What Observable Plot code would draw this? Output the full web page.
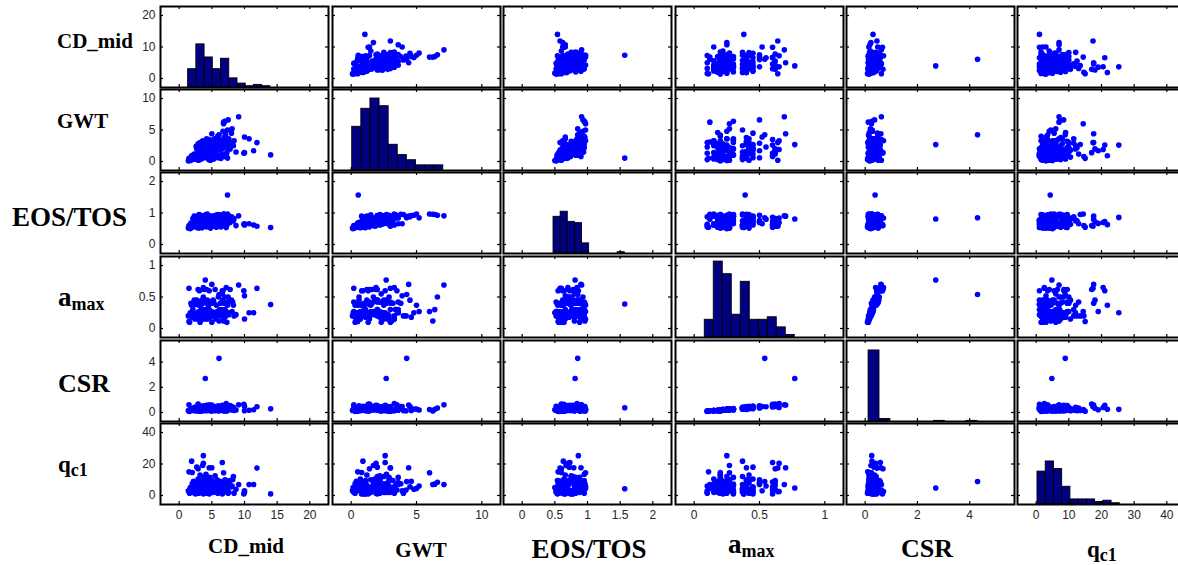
<!DOCTYPE html>
<html><head><meta charset="utf-8">
<script src="https://cdn.jsdelivr.net/npm/d3@7"></script>
<script src="https://cdn.jsdelivr.net/npm/@observablehq/plot@0.6"></script>
<style>
html,body{margin:0;padding:0;background:#fff;overflow:hidden;width:1178px;height:565px;}
#chart{position:relative;width:1178px;height:565px;overflow:hidden;}
.panel{position:absolute;}
.labels{position:absolute;left:0;top:0;pointer-events:none;}
</style></head><body><div id="chart"></div>
<script>
// ---------------- data ----------------
const varNames = ["CD_mid", "GWT", "EOS/TOS", "a_max", "CSR", "q_c1"];

const cdMid = [14.0, 9.1, 11.9, 11.4, 10.7, 10.0, 9.9, 10.0, 7.4, 6.1, 4.0, 7.5, 6.8, 6.8, 8.1, 7.0, 8.3, 8.4, 8.0, 7.8, 8.7, 8.2,
 3.7, 1.9, 6.6, 3.7, 3.6, 2.7, 2.9, 4.6, 5.0, 1.5, 2.0, 3.2, 5.5, 4.2,
 1.4, 1.5, 1.6, 1.7, 1.8, 2.0, 2.1, 2.2, 2.3, 2.4, 2.5, 2.6,
 2.7, 2.7, 2.8, 2.8, 2.9, 3.0, 3.0, 3.1, 3.1, 3.2, 3.2, 3.3, 3.3, 3.4, 3.4, 3.5, 3.5, 3.5, 3.6, 3.6, 3.7, 3.7, 3.8, 3.8, 3.9, 3.0, 3.3,
 3.9, 4.0, 4.1, 4.2, 4.3, 4.3, 4.4, 4.5, 4.5, 4.6, 4.7, 4.8, 4.8, 4.9, 5.0, 5.0, 5.1, 4.1, 4.6,
 5.2, 5.3, 5.4, 5.5, 5.6, 5.7, 5.8, 5.9, 6.0, 6.1, 6.2, 6.3,
 6.5, 6.5, 6.6, 6.7, 6.7, 6.8, 6.9, 7.0, 7.0, 7.1, 7.2, 7.2, 7.3, 7.4, 7.5, 7.6,
 2.2, 2.5, 3.1, 3.4, 3.6, 3.8, 4.0, 4.4, 4.7, 5.0, 5.3, 5.8, 6.2, 6.4, 6.6, 7.0, 7.3, 7.6, 2.9, 4.2];

const gwt = [1.05, 7.1, 3.0, 1.7, 3.6, 3.9, 1.3, 1.4, 0.54, 4.25, 2.68, 6.6, 6.0, 6.25, 5.2, 6.4, 2.5, 3.3, 4.5, 2.0, 1.5, 3.0,
 2.6, 0.9, 2.6, 1.9, 1.7, 2.0, 1.4, 3.0, 4.4, 0.5, 0.8, 1.2, 2.2, 3.6,
 0.1, 0.2, 0.3, 0.15, 0.5, 0.3, 1.0, 0.6, 1.2, 0.4, 0.8, 2.4,
 0.3, 1.0, 2.2, 0.6, 2.8, 1.3, 0.2, 2.2, 0.8, 3.0, 1.0, 2.5, 0.5, 1.4, 2.0, 1.1, 2.7, 0.7, 1.5, 3.3, 0.9, 1.7, 2.4, 1.2, 2.0, 1.5, 2.6,
 3.0, 1.2, 2.2, 0.8, 3.3, 1.8, 2.6, 0.3, 2.0, 3.5, 1.5, 2.8, 0.2, 2.3, 1.3, 3.2, 1.8, 2.7, 1.1,
 2.5, 0.4, 3.6, 1.6, 2.9, 0.7, 2.2, 4.0, 0.6, 3.1, 1.9, 2.7,
 1.2, 3.4, 2.0, 4.8, 0.9, 2.6, 3.8, 0.8, 2.9, 4.2, 1.1, 3.3, 2.3, 5.0, 1.9, 3.6,
 0.4, 1.1, 1.6, 0.4, 2.0, 0.6, 2.5, 1.4, 2.9, 0.9, 2.0, 1.1, 3.4, 0.5, 2.3, 4.6, 1.4, 2.8, 0.7, 1.9];

const eosTos = [0.54, 0.91, 0.58, 0.62, 0.66, 0.66, 0.64, 0.62, 1.57, 0.85, 0.81, 0.93, 0.97, 0.96, 0.85, 0.95, 0.75, 0.82, 0.88, 0.70, 0.60, 0.78,
 0.86, 0.63, 0.73, 0.70, 0.67, 0.72, 0.60, 0.79, 0.90, 0.55, 0.60, 0.66, 0.75, 0.88,
 0.52, 0.60, 0.56, 0.50, 0.68, 0.55, 0.82, 0.58, 0.90, 0.62, 0.74, 0.66,
 0.54, 0.58, 0.88, 0.70, 0.66, 0.77, 0.52, 0.95, 0.55, 0.60, 0.86, 0.72, 0.60, 0.56, 0.90, 0.64, 0.85, 0.53, 0.80, 0.62, 0.66, 0.72, 0.92, 0.58, 0.78, 0.94, 0.68,
 0.90, 0.70, 0.62, 0.56, 0.97, 0.84, 0.70, 0.60, 0.92, 0.86, 0.64, 0.80, 0.52, 0.68, 0.88, 0.75, 0.58, 0.95, 0.76,
 0.66, 0.60, 0.87, 0.82, 0.93, 0.55, 0.74, 0.95, 0.70, 0.80, 0.60, 0.88,
 0.58, 0.90, 0.78, 0.93, 0.62, 0.68, 0.96, 0.90, 0.76, 0.89, 0.54, 0.84, 0.64, 0.97, 0.72, 0.84,
 0.60, 0.72, 0.84, 0.56, 0.66, 0.62, 0.90, 0.74, 0.82, 0.58, 0.90, 0.66, 0.94, 0.56, 0.80, 0.92, 0.62, 0.88, 0.64, 0.78];

const aMax = [0.38, 0.69, 0.64, 0.25, 0.25, 0.52, 0.60, 0.15, 0.39, 0.54, 0.77, 0.50, 0.27, 0.12, 0.27, 0.30, 0.37, 0.20, 0.45, 0.62, 0.22, 0.42,
 0.25, 0.37, 0.60, 0.65, 0.27, 0.45, 0.62, 0.40, 0.70, 0.11, 0.20, 0.42, 0.20, 0.30,
 0.20, 0.64, 0.10, 0.25, 0.40, 0.18, 0.30, 0.22, 0.45, 0.15, 0.38, 0.20,
 0.22, 0.40, 0.18, 0.25, 0.15, 0.20, 0.27, 0.42, 0.60, 0.10, 0.22, 0.25, 0.37, 0.18, 0.30, 0.20, 0.45, 0.27, 0.40, 0.15, 0.22, 0.50, 0.20, 0.62, 0.25, 0.37, 0.22,
 0.30, 0.20, 0.42, 0.25, 0.15, 0.45, 0.22, 0.37, 0.20, 0.60, 0.27, 0.18, 0.42, 0.25, 0.10, 0.40, 0.22, 0.20, 0.30,
 0.45, 0.20, 0.25, 0.62, 0.15, 0.37, 0.27, 0.20, 0.50, 0.12, 0.22, 0.40,
 0.20, 0.30, 0.45, 0.25, 0.60, 0.18, 0.40, 0.22, 0.50, 0.20, 0.27, 0.65, 0.10, 0.37, 0.25, 0.42,
 0.25, 0.18, 0.40, 0.22, 0.30, 0.45, 0.15, 0.38, 0.20, 0.27, 0.42, 0.20, 0.30, 0.25, 0.55, 0.18, 0.42, 0.22, 0.15, 0.62];

const csr = [0.30, 0.62, 0.45, 0.22, 0.18, 0.48, 0.66, 0.14, 0.38, 4.3, 2.7, 0.36, 0.24, 0.12, 0.20, 0.26, 0.42, 0.17, 0.47, 0.55, 0.20, 0.30,
 0.25, 0.26, 0.58, 0.40, 0.22, 0.34, 0.68, 0.45, 0.60, 0.10, 0.18, 0.36, 0.15, 0.28,
 0.16, 0.62, 0.09, 0.21, 0.32, 0.17, 0.22, 0.19, 0.40, 0.13, 0.44, 0.20,
 0.21, 0.28, 0.15, 0.27, 0.12, 0.19, 0.25, 0.46, 0.44, 0.10, 0.18, 0.23, 0.35, 0.16, 0.30, 0.14, 0.52, 0.19, 0.38, 0.15, 0.24, 0.50, 0.18, 0.52, 0.20, 0.30, 0.22,
 0.24, 0.20, 0.40, 0.26, 0.16, 0.30, 0.17, 0.33, 0.21, 0.62, 0.28, 0.14, 0.50, 0.20, 0.11, 0.24, 0.23, 0.16, 0.32,
 0.44, 0.19, 0.24, 0.48, 0.17, 0.40, 0.21, 0.15, 0.54, 0.13, 0.25, 0.28,
 0.22, 0.20, 0.38, 0.28, 0.50, 0.18, 0.48, 0.20, 0.40, 0.13, 0.30, 0.70, 0.12, 0.27, 0.25, 0.35,
 0.22, 0.17, 0.35, 0.20, 0.27, 0.42, 0.15, 0.30, 0.19, 0.25, 0.46, 0.18, 0.26, 0.23, 0.45, 0.16, 0.40, 0.21, 0.14, 0.58];

const qc1 = [1.0, 7.0, 17.4, 7.0, 7.0, 3.0, 1.0, 2.0, 4.3, 8.9, 4.8, 8.4, 14.4, 7.0, 6.0, 7.2, 12.1, 1.5, 5.5, 9.5, 4.0, 10.0,
 25.3, 21.8, 21.0, 20.5, 19.0, 18.0, 17.0, 17.6, 17.6, 15.0, 14.6, 13.0, 12.5, 11.5,
 3.0, 2.5, 1.5, 5.0, 4.0, 7.5, 2.0, 9.0, 3.5, 6.0, 1.0, 4.5,
 2.5, 6.5, 3.5, 8.0, 5.0, 1.5, 4.0, 9.5, 5.5, 2.0, 8.0, 3.0, 7.0, 4.5, 6.0, 8.5, 2.5, 3.0, 10.0, 5.0, 1.0, 7.5, 4.0, 6.5, 12.0, 2.0, 5.5,
 3.0, 6.0, 1.5, 9.0, 5.5, 10.5, 2.5, 4.0, 7.0, 3.5, 5.0, 8.0, 2.0, 6.5, 3.0, 9.5, 4.5, 13.5, 1.0,
 2.0, 5.5, 8.0, 4.0, 6.0, 3.0, 10.0, 1.5, 7.0, 4.5, 9.0, 5.0,
 3.0, 6.5, 1.0, 4.0, 8.5, 2.0, 7.5, 5.0, 10.0, 3.5, 9.5, 2.5, 6.0, 4.5, 1.5, 8.0,
 6.5, 3.0, 4.0, 9.0, 2.0, 5.0, 7.5, 3.0, 11.5, 6.0, 2.5, 8.0, 3.5, 5.5, 6.0, 9.0, 4.0, 2.0, 10.5, 8.5];

// histogram bin counts (10 equal bins between each variable's min and max)
const histCD   = [14, 33, 23, 14, 22, 7, 3, 1, 2, 1];
const histGWT  = [17, 24, 28, 25, 10, 6, 4, 2, 2, 2];
const histEOS  = [29, 33, 25, 24, 8, 0, 0, 0, 0, 1];
const histAmax = [7, 30, 25, 9, 22, 7, 7, 8, 4, 1];
const histCSR  = [114, 4, 0, 0, 0, 0, 1, 0, 0, 1];
const histQc1  = [26, 34, 28, 14, 4, 4, 4, 2, 3, 1];
const histRange = [[1.37, 13.96], [0.08, 7.05], [0.48, 1.57], [0.081, 0.77], [0.13, 4.3], [0.4, 25.6]];

// axis ticks
const axisSpan = [20, 10, 2, 1, 5, 40];
const xTicks = [[0, 5, 10, 15, 20], [0, 5, 10], [0, 0.5, 1, 1.5, 2], [0, 0.5, 1], [0, 2, 4], [0, 10, 20, 30, 40]];
const yTicks = [[0, 10, 20], [0, 5, 10], [0, 1, 2], [0, 0.5, 1], [0, 2, 4], [0, 20, 40]];

// ---------------- layout ----------------
const series = [cdMid, gwt, eosTos, aMax, csr, qc1];
const histCounts = [histCD, histGWT, histEOS, histAmax, histCSR, histQc1];
const histTop = [62, 31.5, 64, 32, 130, 64];
const colLeft = [160, 332, 503, 675, 846, 1017];
const rowTop = [6, 89, 172, 256, 340, 423];
const W = 168, H = 81, TICK = 3;
const pad = 0.143;
const dom = k => [-pad * axisSpan[k], (1 + pad) * axisSpan[k]];
const N = cdMid.length;
const rows = d3.range(N).map(k => series.map(s => s[k]));
const fmt = d => String(d);
const baseStyle = {
  fontFamily: "'Liberation Sans', Arial, sans-serif", fontSize: "12px", color: "#262626",
  background: "transparent", overflow: "visible", maxWidth: "none"
};

const chart = document.getElementById("chart");
function place(svg, left, top) {
  const div = document.createElement("div");
  div.className = "panel";
  div.style.left = left + "px";
  div.style.top = top + "px";
  div.appendChild(svg);
  chart.appendChild(div);
}

function histPlot(k) {
  const [lo, hi] = histRange[k];
  const counts = histCounts[k];
  const w = (hi - lo) / counts.length;
  const bins = counts.map((c, b) => ({x0: lo + b * w, x1: lo + (b + 1) * w, count: c})).filter(b => b.count > 0);
  return Plot.plot({
    width: W, height: H, margin: 0,
    x: {domain: dom(k), axis: null},
    y: {domain: [0, histTop[k]], axis: null},
    style: baseStyle,
    marks: [Plot.rectY(bins, {x1: "x0", x2: "x1", y: "count", fill: "#000080", stroke: "#000", strokeWidth: 0.9})]
  });
}

function panelPlot(i, j) {
  const ml = j === 0 ? 40 : 0, mb = i === 5 ? 26 : 0;
  const marks = [];
  if (i !== j) {
    marks.push(Plot.dot(rows, {x: d => d[j], y: d => d[i], r: 2.8, fill: "#0000ff", stroke: "none"}));
  }
  marks.push(
    Plot.ruleX(xTicks[j], {insetTop: H - TICK, stroke: "#000", strokeWidth: 1.2}),
    Plot.ruleX(xTicks[j], {insetBottom: H - TICK, stroke: "#000", strokeWidth: 1.2}),
    Plot.ruleY(yTicks[i], {insetRight: W - TICK, stroke: "#000", strokeWidth: 1.2}),
    Plot.ruleY(yTicks[i], {insetLeft: W - TICK, stroke: "#000", strokeWidth: 1.2}),
    Plot.frame({stroke: "#000", strokeWidth: 2})
  );
  if (j === 0) marks.push(Plot.axisY(yTicks[i], {anchor: "left", tickSize: 0, tickPadding: 5, label: null, tickFormat: fmt}));
  if (i === 5) marks.push(Plot.axisX(xTicks[j], {anchor: "bottom", tickSize: 0, tickPadding: 6, label: null, tickFormat: fmt}));
  const x = {domain: dom(j)}; if (i !== 5) x.axis = null;
  const y = {domain: dom(i)}; if (j !== 0) y.axis = null;
  return {svg: Plot.plot({
    width: W + ml, height: H + mb,
    marginLeft: ml, marginBottom: mb, marginTop: 0, marginRight: 0,
    x, y, style: baseStyle, marks
  }), ml};
}

for (let i = 0; i < 6; i++) {
  for (let j = 0; j < 6; j++) {
    if (i === j) place(histPlot(j), colLeft[j], rowTop[i]);
    const {svg, ml} = panelPlot(i, j);
    place(svg, colLeft[j] - ml, rowTop[i]);
  }
}

// ---------------- variable names ----------------
const lab = d3.select(chart).append("svg").attr("class", "labels")
  .attr("width", 1178).attr("height", 565)
  .style("font-family", "'Liberation Serif', 'Times New Roman', serif")
  .style("font-weight", "bold").style("fill", "#000");

function label(x, y, size, main, sub, subSize, subDy, anchor) {
  const t = lab.append("text").attr("x", x).attr("y", y).attr("text-anchor", anchor || "start");
  t.append("tspan").style("font-size", size + "px").text(main);
  if (sub) t.append("tspan").style("font-size", subSize + "px").attr("dy", subDy).text(sub);
}
// row names (left)
label(57, 48, 21, varNames[0]);
label(57, 128, 21, varNames[1]);
label(12, 226, 27, varNames[2]);
label(58, 306, 27, "a", "max", 18, 4);
label(58, 392, 26, varNames[4]);
label(58, 472, 23, "q", "c1", 18, 4);
// column names (bottom)
label(246, 553, 21, varNames[0], null, 0, 0, "middle");
label(421, 557, 21, varNames[1], null, 0, 0, "middle");
label(589, 558, 27, varNames[2], null, 0, 0, "middle");
label(728, 553, 27, "a", "max", 18, 4);
label(927, 557, 26, varNames[4], null, 0, 0, "middle");
label(1087, 557, 23, "q", "c1", 18, 4);
</script></body></html>
